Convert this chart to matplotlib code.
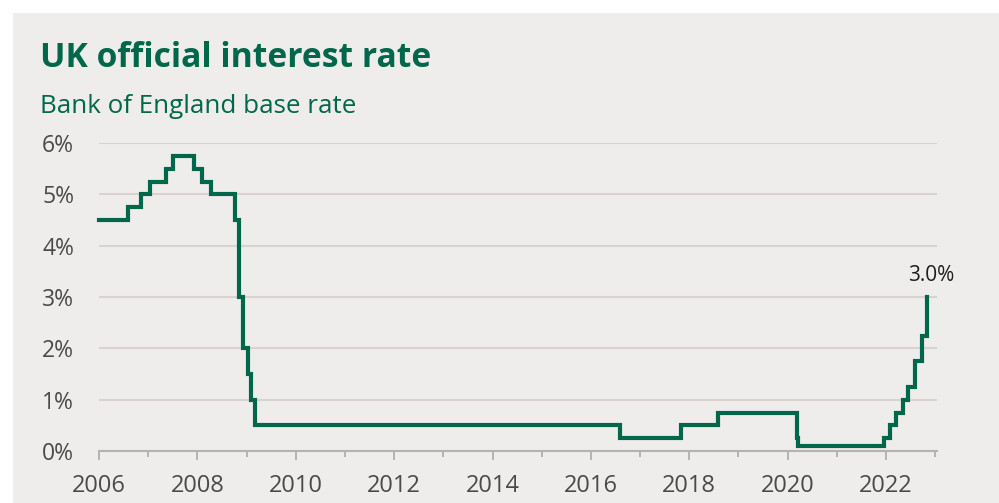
import matplotlib
matplotlib.use("Agg")
import matplotlib.pyplot as plt
from matplotlib.patches import Rectangle
from matplotlib.ticker import FixedLocator
import pandas as pd
import numpy as np

plt.rcParams['font.family'] = ['Open Sans', 'DejaVu Sans']

# ---- data ----
change_dates = ["2006-01-01", "2006-08-03", "2006-11-09", "2007-01-11", "2007-05-10",
                "2007-07-05", "2007-12-06", "2008-02-07", "2008-04-10", "2008-10-08",
                "2008-11-06", "2008-12-04", "2009-01-08", "2009-02-05", "2009-03-05",
                "2016-08-04", "2017-11-02", "2018-08-02", "2020-03-11", "2020-03-19",
                "2021-12-16", "2022-02-03", "2022-03-17", "2022-05-05", "2022-06-16",
                "2022-08-04", "2022-09-22", "2022-11-03"]
rates = [4.5, 4.75, 5.0, 5.25, 5.5, 5.75, 5.5, 5.25, 5.0, 4.5,
         3.0, 2.0, 1.5, 1.0, 0.5, 0.25, 0.5, 0.75, 0.25, 0.1,
         0.25, 0.5, 0.75, 1.0, 1.25, 1.75, 2.25, 3.0]
y_ticks = [0, 1, 2, 3, 4, 5, 6]
y_tick_labels = ["0%", "1%", "2%", "3%", "4%", "5%", "6%"]
x_label_years = [2006, 2008, 2010, 2012, 2014, 2016, 2018, 2020, 2022]
title = "UK official interest rate"
subtitle = "Bank of England base rate"
last_label = "3.0%"

d = pd.to_datetime(change_dates)
x = d.year + (d.dayofyear - 1) / np.where(d.is_leap_year, 366, 365)

W, H = 999, 503
fig = plt.figure(figsize=(W / 100, H / 100), dpi=100)
fig.patch.set_facecolor("white")
BG = "#efedeb"
fig.patches.append(Rectangle((13 / W, 0), 1 - 13 / W, 1 - 13 / H,
                             transform=fig.transFigure, facecolor=BG,
                             edgecolor="none", zorder=-10))

GREEN = "#00674a"
ax = fig.add_axes([99 / W, 1 - 451 / H, (937 - 99) / W, (451 - 143) / H])
ax.patch.set_alpha(0)

ax.plot(x, rates, drawstyle="steps-post", color=GREEN, lw=3.0,
        solid_joinstyle="miter", clip_on=False, zorder=3)

ax.set_xlim(2006, 2006 + (937 - 99) / 49.19)
ax.set_ylim(0, 6)

ax.set_yticks(y_ticks)
ax.set_yticklabels(y_tick_labels)
ax.grid(axis="y", color="#d8d3d0", lw=1.5, zorder=0)
ax.set_axisbelow(True)

ax.xaxis.set_major_locator(FixedLocator(x_label_years))
ax.xaxis.set_minor_locator(FixedLocator([yy + 1 for yy in x_label_years]))
ax.set_xticklabels([str(v) for v in x_label_years])

for s in ["top", "right", "left"]:
    ax.spines[s].set_visible(False)
ax.spines["bottom"].set_color("#b3b3b3")
ax.spines["bottom"].set_linewidth(1.5)
ax.spines["bottom"].set_zorder(1)

ax.tick_params(axis="y", length=0, pad=18, labelsize=16.5, labelcolor="#4a4a4a")
ax.tick_params(axis="x", which="major", length=6.5, width=1.4, color="#b3b3b3",
               pad=10, labelsize=17, labelcolor="#4a4a4a")
ax.tick_params(axis="x", which="minor", length=4.3, width=1.4, color="#b3b3b3")

ax.annotate(last_label, xy=(x[-1], rates[-1]), xytext=(3, 8),
            textcoords="offset points", ha="center", va="bottom",
            fontsize=15, color="#1e1e1e")

fig.text(40 / W, 1 - 67 / H, title, fontsize=24.2, fontweight="bold",
         color=GREEN, va="baseline", ha="left")
fig.text(40 / W, 1 - 113 / H, subtitle, fontsize=18.7, color=GREEN,
         va="baseline", ha="left")

fig.savefig("out.png", dpi=100, facecolor=fig.get_facecolor())
